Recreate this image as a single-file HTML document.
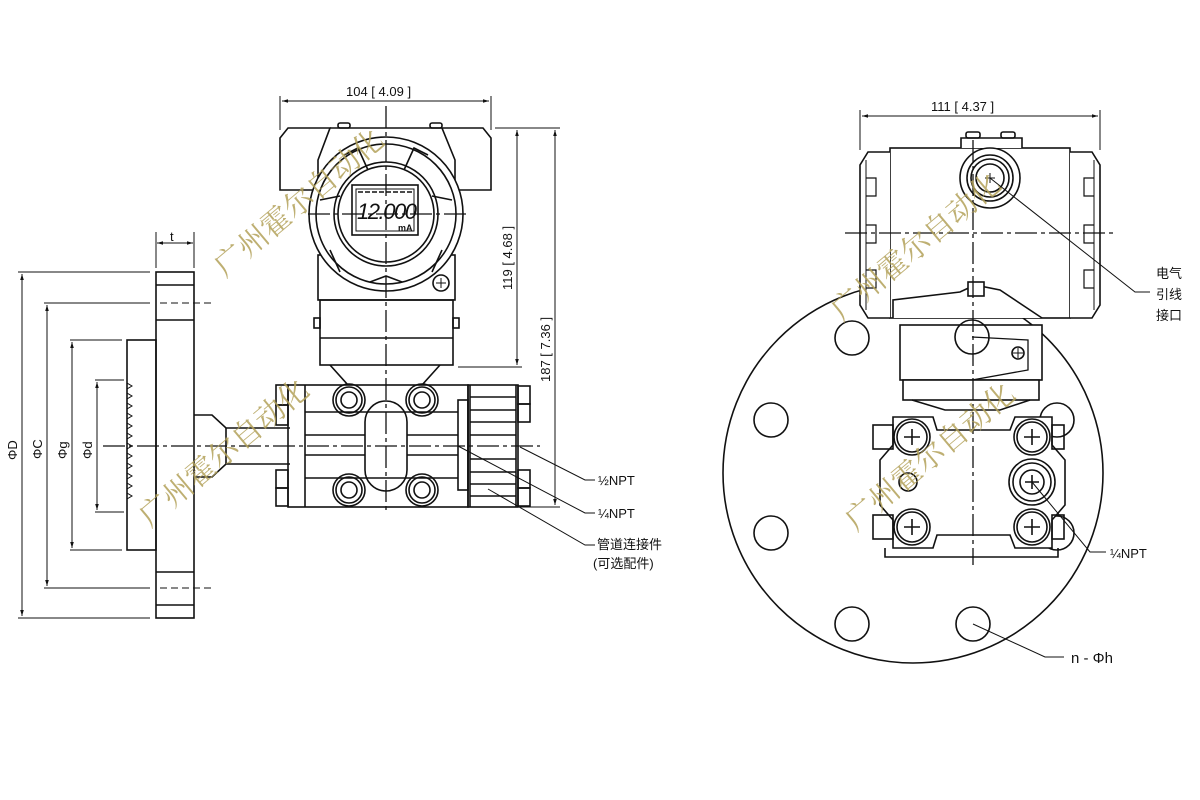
<!DOCTYPE html>
<html><head><meta charset="utf-8"><style>
html,body{margin:0;padding:0;background:#fff;}
svg{display:block;}
text{font-family:"Liberation Sans","Noto Sans CJK SC",sans-serif;fill:#111;}
.wm{font-family:"Liberation Serif","Noto Serif CJK SC",serif;fill:#b3a25a;font-size:30px;opacity:.85;}
</style></head><body>
<svg width="1200" height="800" viewBox="0 0 1200 800" xmlns="http://www.w3.org/2000/svg">
<defs>
<marker id="a" viewBox="0 0 10 10" refX="10" refY="5" markerWidth="9" markerHeight="6" orient="auto-start-reverse"><path d="M0,2 L10,5 L0,8 z" fill="#111"/></marker>
</defs>
<g fill="none" stroke="#111" stroke-width="1.6">
<!-- ===== LEFT VIEW ===== -->
<!-- t dimension -->
<line x1="156" y1="232" x2="156" y2="268" stroke-width="1"/>
<line x1="194" y1="232" x2="194" y2="268" stroke-width="1"/>
<line x1="157" y1="243" x2="193" y2="243" stroke-width="1" marker-start="url(#a)" marker-end="url(#a)"/>
<!-- flange -->
<rect x="156" y="272" width="38" height="346"/>
<line x1="156" y1="285" x2="194" y2="285"/><line x1="156" y1="320" x2="194" y2="320"/>
<line x1="156" y1="572" x2="194" y2="572"/><line x1="156" y1="605" x2="194" y2="605"/>
<!-- raised face -->
<rect x="127" y="340" width="29" height="210"/>
<path d="M127,383 l5,3 l-5,3 M127,393 l5,3 l-5,3 M127,403 l5,3 l-5,3 M127,413 l5,3 l-5,3 M127,423 l5,3 l-5,3 M127,433 l5,3 l-5,3 M127,443 l5,3 l-5,3 M127,453 l5,3 l-5,3 M127,463 l5,3 l-5,3 M127,473 l5,3 l-5,3 M127,483 l5,3 l-5,3 M127,493 l5,3 l-5,3" stroke-width="1"/>
<!-- dim lines left -->
<g stroke-width="1">
<line x1="18" y1="272" x2="150" y2="272"/><line x1="18" y1="618" x2="150" y2="618"/>
<line x1="22" y1="274" x2="22" y2="616" marker-start="url(#a)" marker-end="url(#a)"/>
<line x1="44" y1="303" x2="150" y2="303"/><line x1="44" y1="588" x2="150" y2="588"/>
<line x1="160" y1="303" x2="215" y2="303" stroke-dasharray="7,4"/><line x1="160" y1="588" x2="215" y2="588" stroke-dasharray="7,4"/>
<line x1="47" y1="305" x2="47" y2="586" marker-start="url(#a)" marker-end="url(#a)"/>
<line x1="70" y1="340" x2="122" y2="340"/><line x1="70" y1="550" x2="122" y2="550"/>
<line x1="72" y1="342" x2="72" y2="548" marker-start="url(#a)" marker-end="url(#a)"/>
<line x1="95" y1="380" x2="124" y2="380"/><line x1="95" y1="512" x2="124" y2="512"/>
<line x1="97" y1="382" x2="97" y2="510" marker-start="url(#a)" marker-end="url(#a)"/>
</g>
<!-- neck to body -->
<path d="M194,415 L212,415 L226,428 L290,428 M194,477 L212,477 L226,464 L290,464"/>
<line x1="226" y1="428" x2="226" y2="464"/>
<!-- process body -->
<rect x="288" y="385" width="180" height="122"/>
<line x1="305" y1="385" x2="305" y2="507"/>
<rect x="276" y="385" width="12" height="20"/><rect x="276" y="405" width="12" height="20"/>
<rect x="276" y="470" width="12" height="18"/><rect x="276" y="488" width="12" height="18"/>
<line x1="305" y1="412" x2="458" y2="412"/><line x1="305" y1="478" x2="458" y2="478"/>
<line x1="305" y1="435" x2="365" y2="435"/><line x1="305" y1="455" x2="365" y2="455"/>
<line x1="407" y1="435" x2="458" y2="435"/><line x1="407" y1="455" x2="458" y2="455"/>
<rect x="365" y="401" width="42" height="90" rx="21"/>
<g>
<circle cx="349" cy="400" r="16"/><circle cx="349" cy="400" r="13"/><circle cx="349" cy="400" r="8"/>
<circle cx="422" cy="400" r="16"/><circle cx="422" cy="400" r="13"/><circle cx="422" cy="400" r="8"/>
<circle cx="349" cy="490" r="16"/><circle cx="349" cy="490" r="13"/><circle cx="349" cy="490" r="8"/>
<circle cx="422" cy="490" r="16"/><circle cx="422" cy="490" r="13"/><circle cx="422" cy="490" r="8"/>
</g>
<rect x="458" y="400" width="10" height="90"/>
<rect x="468" y="385" width="50" height="122"/>
<line x1="470" y1="385" x2="470" y2="507"/><line x1="516" y1="385" x2="516" y2="507"/>
<path d="M470,397 H516 M470,410 H516 M470,422 H516 M470,435 H516 M470,459 H516 M470,472 H516 M470,484 H516 M470,496 H516"/>
<rect x="518" y="386" width="12" height="18"/><rect x="518" y="404" width="12" height="18"/>
<rect x="518" y="470" width="12" height="18"/><rect x="518" y="488" width="12" height="18"/>
<!-- transmitter head -->
<path d="M330,365 L348,385 M440,365 L422,385"/>
<rect x="320" y="300" width="133" height="65"/>
<line x1="320" y1="338" x2="453" y2="338"/>
<rect x="314" y="318" width="6" height="10"/><rect x="453" y="318" width="6" height="10"/>
<rect x="318" y="255" width="137" height="45"/>
<path d="M280,138 L288,128 L330,128 L318,160 L318,190 L280,190 Z"/>
<path d="M491,138 L483,128 L442,128 L455,160 L455,190 L491,190 Z"/>
<path d="M330,128 L442,128"/>
<circle cx="386" cy="214" r="77" fill="#fff"/>
<circle cx="386" cy="214" r="70"/>
<path d="M344,155 L358,148 L368,170 M428,155 L414,148 L404,170 M330,250 L340,272 M442,250 L432,272 M320,200 L340,196 M452,200 L432,196 M370,282 L386,276 L402,282"/>
<circle cx="386" cy="214" r="52"/><circle cx="386" cy="214" r="48"/>
<rect x="352" y="185" width="66" height="50"/><rect x="356" y="189" width="58" height="42" stroke-width="1"/>
<circle cx="441" cy="283" r="8"/><path d="M436,283 h10 M441,278 v10" stroke-width="1"/>
<rect x="338" y="123" width="12" height="5" rx="2"/><rect x="430" y="123" width="12" height="5" rx="2"/>
<!-- top dimension -->
<g stroke-width="1">
<line x1="280" y1="96" x2="280" y2="130"/><line x1="491" y1="96" x2="491" y2="130"/>
<line x1="282" y1="101" x2="489" y2="101" marker-start="url(#a)" marker-end="url(#a)"/>
<line x1="495" y1="128" x2="560" y2="128"/>
<line x1="458" y1="367" x2="522" y2="367"/><line x1="520" y1="507" x2="560" y2="507"/>
<line x1="517" y1="130" x2="517" y2="365" marker-start="url(#a)" marker-end="url(#a)"/>
<line x1="555" y1="130" x2="555" y2="505" marker-start="url(#a)" marker-end="url(#a)"/>
</g>
<!-- center lines -->
<line x1="386" y1="106" x2="386" y2="512" stroke-width="1.3" stroke-dasharray="22,4,4,4"/>
<line x1="308" y1="214" x2="470" y2="214" stroke-width="1.3" stroke-dasharray="22,4,4,4"/>
<line x1="103" y1="446" x2="540" y2="446" stroke-width="1.3" stroke-dasharray="22,4,4,4"/>
<!-- leaders -->
<g stroke-width="1">
<path d="M520,447 L585,480 L595,480"/>
<path d="M458,446 L585,513 L595,513"/>
<path d="M488,489 L585,545 L595,545"/>
</g>
<!-- ===== RIGHT VIEW ===== -->
<circle cx="913" cy="473" r="190"/>
<g fill="#fff">
<circle cx="852" cy="338" r="17"/><circle cx="771" cy="420" r="17"/><circle cx="771" cy="533" r="17"/>
<circle cx="852" cy="624" r="17"/><circle cx="973" cy="624" r="17"/>
<circle cx="1057" cy="420" r="17"/><circle cx="1057" cy="533" r="17"/>
</g>
<!-- housing -->
<rect x="890" y="148" width="180" height="170" fill="#fff"/>
<path d="M890,152 L868,152 L860,165 L860,305 L868,318 L890,318" fill="#fff"/>
<path d="M1070,152 L1092,152 L1100,165 L1100,305 L1092,318 L1070,318" fill="#fff"/>
<path d="M866,160 V310 M1094,160 V310" stroke-width="1"/>
<path d="M866,178 h10 v18 h-10 M866,225 h10 v18 h-10 M866,270 h10 v18 h-10 M1094,178 h-10 v18 h10 M1094,225 h-10 v18 h10 M1094,270 h-10 v18 h10" stroke-width="1.2"/>
<path d="M961,148 V138 H1022 V148" fill="#fff"/>
<rect x="966" y="132" width="14" height="6" rx="2"/><rect x="1001" y="132" width="14" height="6" rx="2"/>
<circle cx="990" cy="178" r="30" fill="#fff"/><circle cx="990" cy="178" r="23"/><circle cx="990" cy="178" r="19"/><circle cx="990" cy="178" r="14"/>
<path d="M985,178 h10 M990,173 v10" stroke-width="1"/>
<!-- neck -->
<path d="M893,318 L893,300 L960,292 L975,285 L1000,290 L1042,318" fill="#fff"/>
<rect x="968" y="282" width="16" height="14" fill="#fff"/>
<rect x="900" y="325" width="142" height="55" fill="#fff"/>
<path d="M972,337 L1028,340 L1028,370 L972,380" stroke-width="1.3"/>
<circle cx="972" cy="337" r="17"/>
<circle cx="1018" cy="353" r="6"/><path d="M1013,353h10M1018,348v10" stroke-width="1"/>
<rect x="903" y="380" width="136" height="20" fill="#fff"/>
<path d="M912,400 L945,410 L1000,410 L1030,400"/>
<!-- lower body -->
<path d="M893,417 H933 L937,430 L1010,430 L1015,417 H1052 V445 L1065,460 V505 L1052,520 V548 H1015 L1010,535 L937,535 L933,548 H893 V520 L880,505 V460 L893,445 Z" fill="#fff"/>
<path d="M885,548 V557 H1058 V548"/>
<rect x="873" y="425" width="20" height="24"/><rect x="873" y="515" width="20" height="24"/>
<rect x="1052" y="425" width="12" height="24"/><rect x="1052" y="515" width="12" height="24"/>
<g fill="#fff">
<circle cx="912" cy="437" r="18"/><circle cx="1032" cy="437" r="18"/>
<circle cx="912" cy="527" r="18"/><circle cx="1032" cy="527" r="18"/>
<circle cx="1032" cy="482" r="23"/>
</g>
<circle cx="912" cy="437" r="15"/><circle cx="1032" cy="437" r="15"/>
<circle cx="912" cy="527" r="15"/><circle cx="1032" cy="527" r="15"/>
<circle cx="1032" cy="482" r="19"/><circle cx="1032" cy="482" r="12"/>
<circle cx="908" cy="482" r="9"/>
<path d="M904,437h16M912,429v16 M1024,437h16M1032,429v16 M904,527h16M912,519v16 M1024,527h16M1032,519v16 M1025,482h14M1032,475v14" stroke-width="1.6"/>
<!-- right dims -->
<g stroke-width="1">
<line x1="860" y1="110" x2="860" y2="150"/><line x1="1100" y1="110" x2="1100" y2="150"/>
<line x1="862" y1="116" x2="1098" y2="116" marker-start="url(#a)" marker-end="url(#a)"/>
</g>
<line x1="973" y1="140" x2="973" y2="565" stroke-width="1.3" stroke-dasharray="22,4,4,4"/>
<line x1="845" y1="233" x2="1115" y2="233" stroke-width="1.3" stroke-dasharray="22,4,4,4"/>
<g stroke-width="1">
<path d="M990,178 L1135,292 L1150,292"/>
<path d="M1032,482 L1090,552 L1106,552"/>
<path d="M973,624 L1045,657 L1064,657"/>
</g>
</g>
<!-- LCD digits -->
<text x="357" y="219" font-size="22" font-style="italic" font-family="Liberation Mono,monospace" textLength="60">12.000</text>
<text x="398" y="231" font-size="9" font-weight="bold">mA</text>
<line x1="358" y1="192" x2="412" y2="192" stroke="#111" stroke-width="1.5" stroke-dasharray="5,2"/>
<!-- labels -->
<g font-size="13">
<text x="170" y="241">t</text>
<text x="346" y="96">104 [ 4.09 ]</text>
<text x="931" y="111">111 [ 4.37 ]</text>
<text transform="translate(512,290) rotate(-90)">119 [ 4.68 ]</text>
<text transform="translate(550,382) rotate(-90)">187 [ 7.36 ]</text>
<text transform="translate(17,460) rotate(-90)">ΦD</text>
<text transform="translate(42,459) rotate(-90)">ΦC</text>
<text transform="translate(67,459) rotate(-90)">Φg</text>
<text transform="translate(92,459) rotate(-90)">Φd</text>
<text x="598" y="485">½NPT</text>
<text x="598" y="518">¼NPT</text>
<text x="597" y="549">管道连接件</text>
<text x="593" y="568">(可选配件)</text>
<text x="1156" y="278">电气</text>
<text x="1156" y="299">引线</text>
<text x="1156" y="320">接口</text>
<text x="1110" y="558">¼NPT</text>
<text x="1071" y="663" font-size="15">n - Φh</text>
</g>
<!-- watermarks -->
<text class="wm" transform="translate(225,278) rotate(-40)">广州霍尔自动化</text>
<text class="wm" transform="translate(150,528) rotate(-40)">广州霍尔自动化</text>
<text class="wm" transform="translate(842,322) rotate(-40)">广州霍尔自动化</text>
<text class="wm" transform="translate(856,532) rotate(-40)">广州霍尔自动化</text>
</svg>
</body></html>
